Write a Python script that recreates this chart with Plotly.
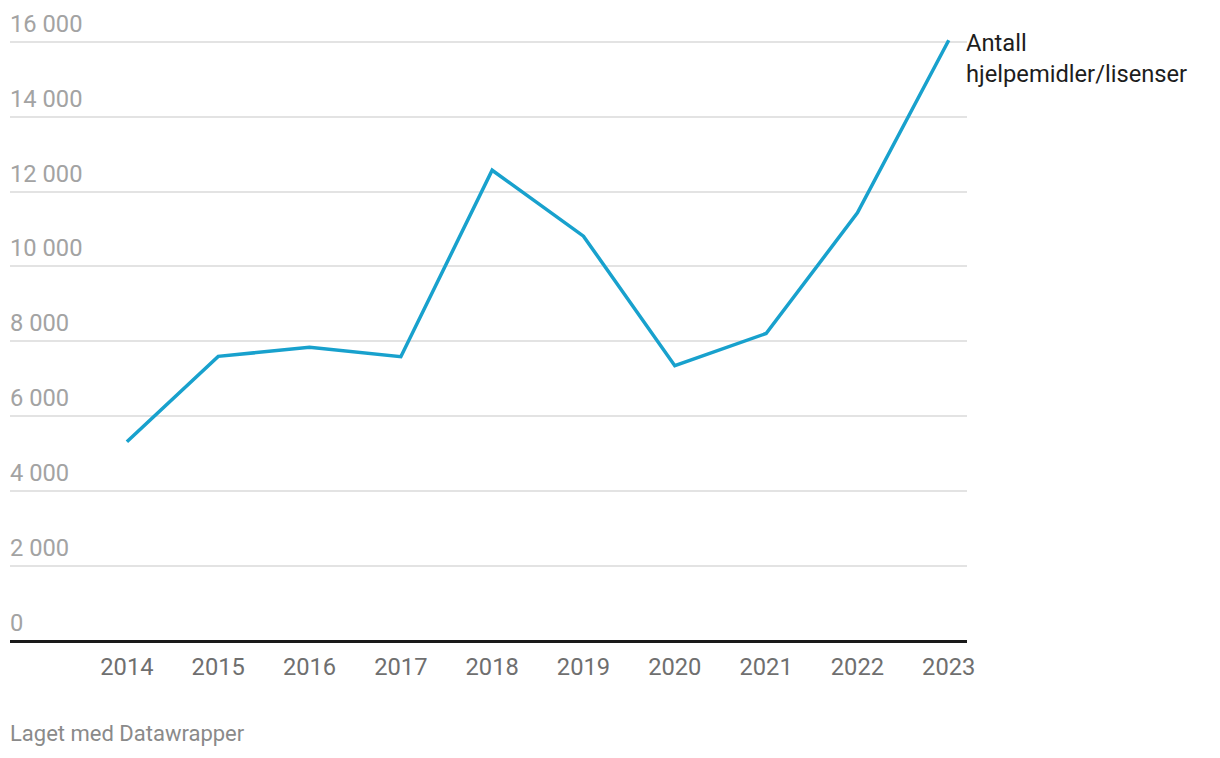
"""
    Linjediagram: antall hjelpemidler/lisenser per år (Datawrapper-stil).
"""
import plotly.graph_objects as go

years = [2014, 2015, 2016, 2017, 2018, 2019, 2020, 2021, 2022, 2023]
antall = [5320, 7600, 7840, 7590, 12570, 10810, 7350, 8210, 11430, 16040]

y_ticks = [0, 2000, 4000, 6000, 8000, 10000, 12000, 14000, 16000]
y_tick_labels = ["0", "2 000", "4 000", "6 000", "8 000", "10 000", "12 000", "14 000", "16 000"]

series_label = "Antall<br>hjelpemidler/lisenser"
footer = "Laget med Datawrapper"

FONT = "Roboto"
TICK_SIZE = 23.7

fig = go.Figure()

fig.add_trace(
    go.Scatter(
        x=years,
        y=antall,
        mode="lines",
        line=dict(color="#18a1cd", width=3.5),
        hovertemplate="%{x}: %{y}<extra></extra>",
        cliponaxis=False,
    )
)

fig.update_xaxes(
    range=[2012.72, 2023.2],
    tickvals=years,
    ticktext=[str(y) for y in years],
    tickfont=dict(family=FONT, size=TICK_SIZE, color="#6f6f6f"),
    ticks="",
    ticklabelstandoff=9,
    showgrid=False,
    showline=False,
    zeroline=False,
)

fig.update_yaxes(
    range=[0, 16100],
    tickvals=y_ticks,
    showticklabels=False,
    showgrid=True,
    gridcolor="#e3e3e3",
    gridwidth=1.5,
    zeroline=True,
    zerolinecolor="#1a1a1a",
    zerolinewidth=2.5,
    showline=False,
)

# y-etiketter over gridlinjene, venstrejustert
for val, txt in zip(y_ticks, y_tick_labels):
    fig.add_annotation(
        text=txt,
        xref="paper",
        x=0,
        xanchor="left",
        xshift=-2,
        y=val,
        yref="y",
        yanchor="bottom",
        yshift=2,
        showarrow=False,
        font=dict(family=FONT, size=TICK_SIZE, color="#a3a3a3"),
    )

# etikett for linjen
fig.add_annotation(
    text=series_label,
    x=years[-1],
    y=antall[-1],
    xanchor="left",
    yanchor="top",
    align="left",
    xshift=15,
    yshift=13,
    showarrow=False,
    font=dict(family=FONT, size=TICK_SIZE, color="#1d1d1d"),
)

fig.add_annotation(
    text=footer,
    xref="paper",
    yref="paper",
    x=0,
    y=0,
    xanchor="left",
    xshift=-2,
    yanchor="middle",
    yshift=-92,
    showarrow=False,
    font=dict(family=FONT, size=22, color="#8a8a8a"),
)

fig.update_layout(
    width=1204,
    height=742,
    margin=dict(l=2, r=245, t=30, b=109),
    plot_bgcolor="white",
    paper_bgcolor="white",
    showlegend=False,
    font=dict(family=FONT),
)

fig.write_html("out.html")
